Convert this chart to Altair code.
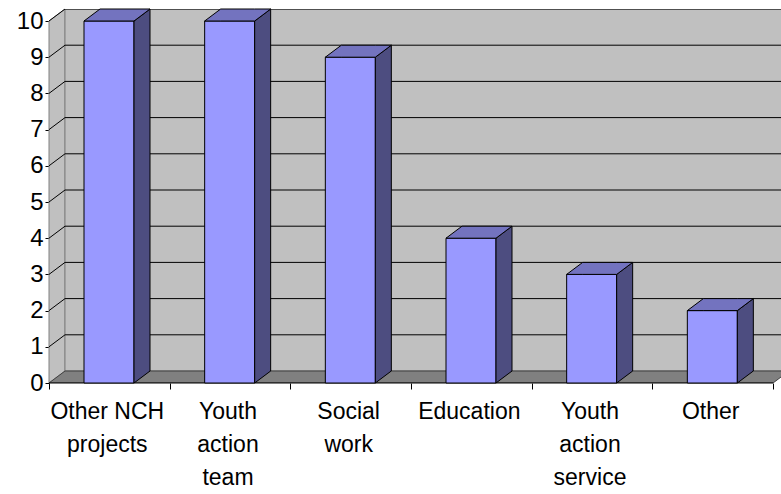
import altair as alt
import pandas as pd

categories = ["Other NCH\nprojects", "Youth\naction\nteam", "Social\nwork",
              "Education", "Youth\naction\nservice", "Other"]
values = [10, 10, 9, 4, 3, 2]
y_ticks = [0, 1, 2, 3, 4, 5, 6, 7, 8, 9, 10]

# geometry (pixels / units)
W, H = 732, 374
UNIT = 36.2                # px per value unit
DX = 16                    # depth offset in px (x)
D = 12 / UNIT              # depth offset in value units (y)
YMAX = 10 + D
N = len(categories)
CAT_W = 724 / N
BAR_L = 35
BAR_W = 50

xs = alt.Scale(domain=[0, W], nice=False, zero=False)
ys = alt.Scale(domain=[0, YMAX], nice=False, zero=False)

side_wall = pd.DataFrame({"x": [0, DX], "y": [0, D], "y2": [10, 10 + D]})
back_wall = pd.DataFrame({"x": [DX], "x2": [W + 20], "y": [D], "y2": [10 + D]})
floor = pd.DataFrame({"x": [0, DX, N * CAT_W, N * CAT_W + DX],
                      "y": [0, 0, 0, D], "y2": [0, D, D, D]})

grid_rows = []
for v in y_ticks[1:]:
    grid_rows += [{"g": v, "x": 0, "y": v, "o": 0},
                  {"g": v, "x": DX, "y": v + D, "o": 1},
                  {"g": v, "x": W + 20, "y": v + D, "o": 2}]
grid = pd.DataFrame(grid_rows)

front_rows, side_rows, top_rows = [], [], []
for i, v in enumerate(values):
    xl = i * CAT_W + BAR_L
    xr = xl + BAR_W
    front_rows.append({"x": xl, "x2": xr, "y": 0, "y2": v})
    side_rows += [{"b": i, "x": xr, "y": 0, "y2": v},
                  {"b": i, "x": xr + DX, "y": D, "y2": v + D}]
    top_rows += [{"b": i, "x": xl, "y": v, "y2": v},
                 {"b": i, "x": xl + DX, "y": v, "y2": v + D},
                 {"b": i, "x": xr, "y": v, "y2": v + D},
                 {"b": i, "x": xr + DX, "y": v + D, "y2": v + D}]
front = pd.DataFrame(front_rows)
side = pd.DataFrame(side_rows)
top = pd.DataFrame(top_rows)

labels = pd.DataFrame({"x": [(i + 0.5) * CAT_W - 2 for i in range(N)],
                       "label": categories})
boundaries = [i * CAT_W for i in range(N + 1)]

FONT = "Liberation Sans"


def X(field="x:Q"):
    return alt.X(field, scale=xs, axis=None)


def Y(field="y:Q"):
    return alt.Y(field, scale=ys, axis=None)


wall_side = alt.Chart(side_wall).mark_area(
    fill="#c0c0c0", stroke="#808080", strokeWidth=1
).encode(
    x=alt.X("x:Q", scale=xs,
            axis=alt.Axis(values=boundaries, labels=False, grid=False, domain=False,
                          ticks=True, tickSize=6, tickColor="black", title=None)),
    y=alt.Y("y:Q", scale=ys,
            axis=alt.Axis(values=y_ticks, grid=False, domain=False, tickSize=4,
                          tickColor="black", labelFont=FONT, labelFontSize=24,
                          labelColor="black", labelPadding=2, labelOverlap=False,
                          labelFlush=False, labelBound=False, title=None)),
    y2="y2:Q",
)

wall_back = alt.Chart(back_wall).mark_rect(
    fill="#c0c0c0", stroke="#808080", strokeWidth=1, clip=True
).encode(x=X(), x2="x2", y=Y(), y2="y2")

floor_l = alt.Chart(floor).mark_area(
    fill="#808080", stroke="#404040", strokeWidth=1, clip=True
).encode(x=X(), y=Y(), y2="y2:Q")

grid_l = alt.Chart(grid).mark_line(color="black", strokeWidth=1, clip=True).encode(
    x=X(), y=Y(), detail="g:N", order="o:Q")

front_axis = alt.Chart(pd.DataFrame({"x": [0], "x2": [N * CAT_W]})).mark_rule(
    color="black", strokeWidth=1
).encode(x=X(), x2="x2", y=alt.value(H))

bars_front = alt.Chart(front).mark_rect(
    fill="#9999ff", stroke="black", strokeWidth=1
).encode(x=X(), x2="x2", y=Y(), y2="y2")

bars_side = alt.Chart(side).mark_area(
    fill="#4d4d80", stroke="black", strokeWidth=1
).encode(x=X(), y=Y(), y2="y2:Q", detail="b:N")

bars_top = alt.Chart(top).mark_area(
    fill="#7373bf", stroke="black", strokeWidth=1
).encode(x=X(), y=Y(), y2="y2:Q", detail="b:N")

text_l = alt.Chart(labels).mark_text(
    font=FONT, fontSize=23, color="black", align="center", baseline="alphabetic",
    lineBreak="\n", lineHeight=33
).encode(x=X(), y=alt.value(410), text="label:N")

chart = alt.layer(
    wall_side, wall_back, floor_l, grid_l, front_axis,
    bars_front, bars_side, bars_top, text_l
).resolve_axis(x="independent", y="independent").properties(
    width=W, height=H,
    autosize=alt.AutoSizeParams(type="none"),
    padding={"left": 49, "top": 9, "right": 0, "bottom": 111},
    background="white",
).configure_view(stroke=None).configure_axisY(labelOverlap=False)

chart.save("out.html", embed_options={"renderer": "svg", "actions": False})
